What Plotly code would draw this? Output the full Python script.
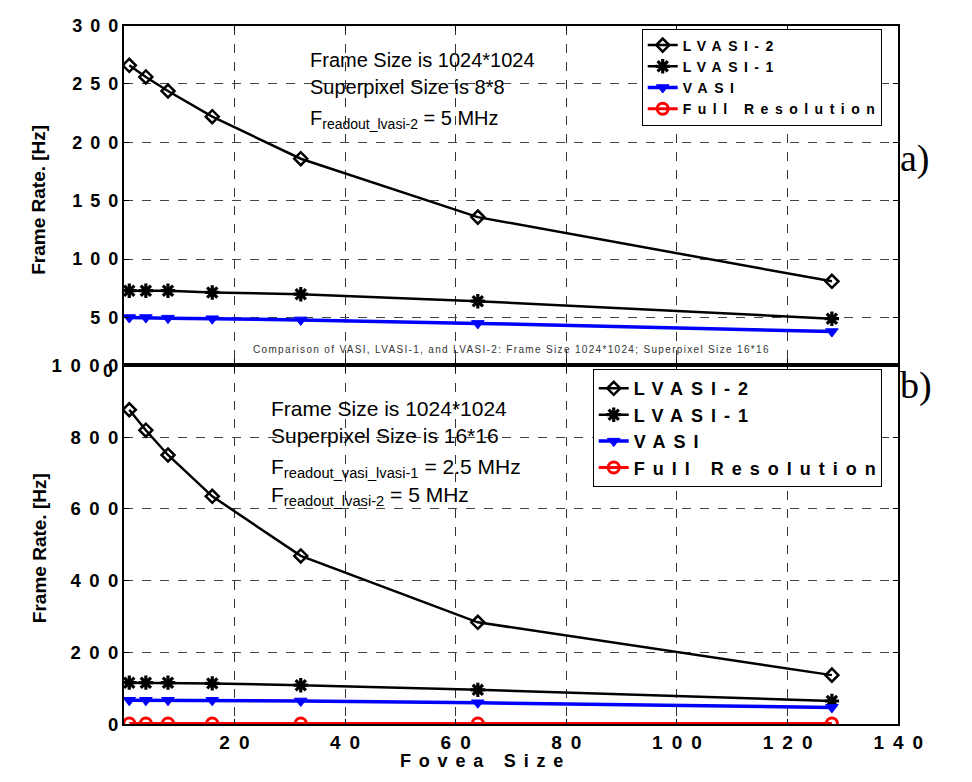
import plotly.graph_objects as go

# ---------------- data ----------------
fovea = [1, 4, 8, 16, 32, 64, 128]
names = ["LVASI-2", "LVASI-1", "VASI", "Full Resolution"]

# a) Superpixel 8*8
a_lvasi2 = [266, 256, 244, 222, 186, 136, 81]
a_lvasi1 = [73, 73, 73, 71.5, 70, 64, 49]
a_vasi = [50, 50, 49.5, 49, 48, 45, 38]
a_full = [2.5, 2.5, 2.5, 2.5, 2.5, 2.5, 2.5]

# b) Superpixel 16*16
b_lvasi2 = [876, 819, 750, 635, 469, 284, 137]
b_lvasi1 = [116, 116, 116, 114, 109, 96, 65]
b_vasi = [67, 67, 67, 67, 65, 60, 47]
b_full = [2.4, 2.4, 2.4, 2.4, 2.4, 2.4, 2.4]

x_ticks_top = [0, 20, 40, 60, 80, 100, 120, 140]
x_ticks_bot = [20, 40, 60, 80, 100, 120, 140]
y_ticks_top = [50, 100, 150, 200, 250, 300]
y_ticks_bot = [0, 200, 400, 600, 800, 1000]

W, H = 972, 782
def px(x):
    return x / W
def py(y):
    return 1 - y / H

def spaced(s, sp):
    # letter spacing between characters, without trailing space after the last one
    if len(s) <= 1:
        return s
    return f'<span style="letter-spacing:{sp}px">{s[:-1]}</span>{s[-1]}'

styles = [
    dict(color="black", width=2.5, symbol="diamond-open", msize=10, mline=2.5),
    dict(color="black", width=2.5, symbol="asterisk-open", msize=12, mline=3.2),
    dict(color="#0000ff", width=3.5, symbol="triangle-down", msize=11, mline=1),
    dict(color="#ff0000", width=3, symbol="circle-open", msize=11, mline=3),
]

fig = go.Figure()
for data, xa, ya, leg, sp in [
    ([a_lvasi2, a_lvasi1, a_vasi, a_full], "x", "y", "legend", 6.5),
    ([b_lvasi2, b_lvasi1, b_vasi, b_full], "x2", "y2", "legend2", 8),
]:
    for nm, ys, st in zip(names, data, styles):
        fig.add_trace(go.Scatter(
            x=fovea, y=ys, name=spaced(nm, sp), mode="lines+markers",
            xaxis=xa, yaxis=ya, legend=leg,
            line=dict(color=st["color"], width=st["width"]),
            marker=dict(symbol=st["symbol"], size=st["msize"], color=st["color"],
                        line=dict(color=st["color"], width=st["mline"])),
        ))

def tf(size):
    return dict(family="Liberation Sans, Arial", size=size, color="black", weight="bold")

common_x = dict(range=[0, 140], showgrid=True, griddash="dash", gridcolor="#333", gridwidth=1,
                showline=True, linecolor="black", linewidth=1.5, mirror="ticks",
                ticks="inside", ticklen=6, tickcolor="black", zeroline=False,
                domain=[px(127), px(922)])
common_y = dict(showgrid=True, griddash="dash", gridcolor="#444", gridwidth=1,
                showline=True, linecolor="black", linewidth=1.5, mirror="ticks",
                ticks="inside", ticklen=6, tickcolor="black", zeroline=False)

fig.update_layout(
    width=W, height=H, margin=dict(l=0, r=0, t=0, b=0),
    paper_bgcolor="white", plot_bgcolor="white",
    xaxis=dict(common_x, anchor="y", tickvals=x_ticks_top, showticklabels=False),
    yaxis=dict(common_y, anchor="x", domain=[py(364), py(15)], range=[(375 - 364) / 1.2, 300],
               tickvals=y_ticks_top, ticktext=[spaced(str(v), 8) for v in y_ticks_top],
               tickfont=tf(18)),
    xaxis2=dict(common_x, anchor="y2", tickvals=x_ticks_bot,
                ticktext=[spaced(str(v), 9) for v in x_ticks_bot], tickfont=tf(19)),
    yaxis2=dict(common_y, anchor="x2", domain=[py(733), py(364)], range=[0, 1000],
                tickvals=y_ticks_bot, ticktext=[spaced(str(v), 8.5) for v in y_ticks_bot],
                tickfont=tf(18.5)),
    legend=dict(x=px(905), y=py(18), xanchor="right", yanchor="top",
                bgcolor="white", bordercolor="black", borderwidth=1,
                font=tf(14), tracegroupgap=0),
    legend2=dict(x=px(905), y=py(368), xanchor="right", yanchor="top",
                 bgcolor="white", bordercolor="black", borderwidth=1,
                 font=tf(18), tracegroupgap=0),
    showlegend=True,
)

txt = dict(family="Liberation Sans, Arial", color="black")
anns = [
    dict(x=px(316), y=py(50), text="Frame Size is 1024*1024", font=dict(txt, size=20)),
    dict(x=px(316), y=py(78), text="Superpixel Size is 8*8", font=dict(txt, size=20)),
    dict(x=px(316), y=py(111), text="F<sub>readout_lvasi-2</sub> = 5 MHz", font=dict(txt, size=20)),
    dict(x=px(276), y=py(408), text="Frame Size is 1024*1024", font=dict(txt, size=21)),
    dict(x=px(276), y=py(436), text="Superpixel Size is 16*16", font=dict(txt, size=21)),
    dict(x=px(276), y=py(470), text="F<sub>readout_vasi_lvasi-1</sub> = 2.5 MHz", font=dict(txt, size=21)),
    dict(x=px(276), y=py(498), text="F<sub>readout_lvasi-2</sub> = 5 MHz", font=dict(txt, size=21)),
]
for a in anns:
    a.update(xref="paper", yref="paper", xanchor="left", yanchor="middle", showarrow=False)
    fig.add_annotation(**a)

other = [
    dict(x=px(525), y=py(348), xanchor="center", yanchor="middle",
         text=spaced("Comparison of VASI, LVASI-1, and LVASI-2: Frame Size 1024*1024; Superpixel Size 16*16", 1.33),
         font=dict(txt, size=10, color="#333")),
    dict(x=px(40), y=py(194), xanchor="center", yanchor="middle", textangle=-90,
         text="Frame Rate. [Hz]", font=dict(txt, size=19, weight="bold")),
    dict(x=px(40), y=py(552), xanchor="center", yanchor="middle", textangle=-90,
         text="Frame Rate. [Hz]", font=dict(txt, size=19, weight="bold")),
    dict(x=px(494), y=py(771), xanchor="center", yanchor="middle",
         text=spaced("Fovea Size", 7.8), font=dict(txt, size=18, weight="bold")),
    dict(x=px(118), y=py(370), xanchor="right", yanchor="middle",
         text="0", font=tf(18)),
    dict(x=px(922), y=py(152), xanchor="left", yanchor="middle",
         text="a)", font=dict(family="Liberation Serif, Times New Roman", size=38, color="black")),
    dict(x=px(922), y=py(385), xanchor="left", yanchor="middle",
         text="b)", font=dict(family="Liberation Serif, Times New Roman", size=38, color="black")),
]
for a in other:
    a.update(xref="paper", yref="paper", showarrow=False)
    fig.add_annotation(**a)

fig.write_html("out.html")
